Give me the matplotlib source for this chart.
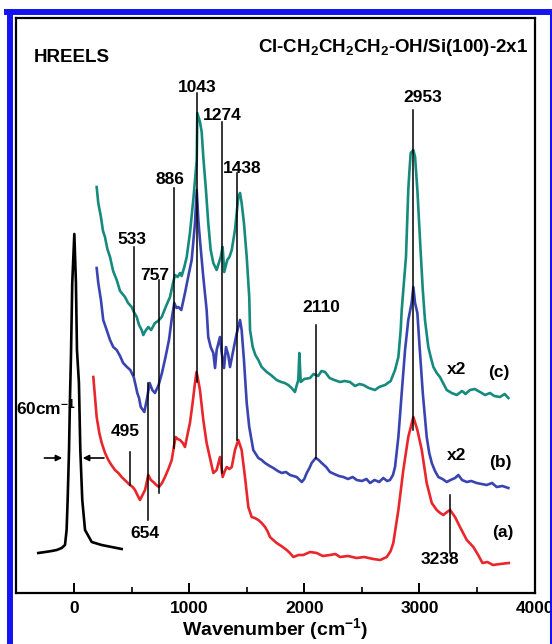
import matplotlib
matplotlib.use('Agg')
import matplotlib.pyplot as plt
from matplotlib.lines import Line2D
from matplotlib.ticker import MultipleLocator

plt.rcParams['font.family'] = ['Liberation Sans', 'DejaVu Sans']
plt.rcParams['font.weight'] = 'bold'
plt.rcParams['mathtext.default'] = 'regular'

# elastic peak (black)
elastic_x = [-310, -250, -194, -150, -107, -78, -64, -55, -43, -35, -26, -15, 3,
             17, 26, 43, 55, 72, 96, 154, 240, 327, 414]
elastic_y = [40, 41, 42, 43, 45, 48, 63, 93, 143, 193, 238, 310, 359,
             310, 243, 210, 143, 93, 63, 51, 48, 46, 44]

# spectrum (a), red
a_x = [168, 197, 220, 241, 270, 298, 325, 356, 385, 414, 450, 486, 510, 530, 555, 573,
       595, 617, 645, 668, 689, 715, 738, 765, 790, 820, 849, 870, 883, 900, 921, 945,
       964, 985, 1007, 1030, 1051, 1064, 1080, 1094, 1123, 1152, 1181, 1210, 1239, 1268,
       1291, 1310, 1326, 1350, 1370, 1398, 1427, 1456, 1485, 1514, 1543, 1570, 1601, 1630,
       1659, 1680, 1702, 1730, 1760, 1800, 1847, 1875, 1905, 1950, 1991, 2050, 2108, 2160,
       2223, 2270, 2310, 2380, 2455, 2520, 2599, 2660, 2716, 2750, 2773, 2817, 2860, 2903,
       2947, 2982, 3020, 3063, 3107, 3150, 3180, 3207, 3240, 3266, 3309, 3352, 3411, 3468,
       3510, 3547, 3590, 3639, 3700, 3776]
a_y = [216, 176, 160, 150, 140, 133, 128, 123, 120, 116, 112, 108, 106, 103, 97, 93,
       98, 103, 118, 113, 111, 108, 106, 110, 116, 124, 133, 148, 156, 154, 153, 150,
       146, 158, 170, 190, 210, 221, 212, 203, 173, 150, 135, 120, 123, 136,
       116, 122, 126, 124, 126, 143, 153, 143, 116, 86, 76, 75, 73, 70,
       66, 62, 56, 53, 50, 47, 43, 40, 36, 38, 38, 41, 40, 37,
       38, 39, 36, 37, 35, 36, 34, 33, 36, 42, 50, 83, 123, 156,
       176, 163, 143, 110, 90, 83, 80, 78, 81, 83, 76, 66, 53, 46,
       38, 30, 31, 28, 29, 30]

# spectrum (b), blue
b_x = [197, 211, 234, 254, 284, 313, 341, 371, 400, 427, 460, 489, 519, 550, 565, 580,
       611, 635, 657, 680, 703, 735, 764, 795, 825, 850, 871, 890, 906, 932, 964, 995,
       1022, 1051, 1066, 1080, 1094, 1123, 1152, 1166, 1187, 1210, 1225, 1239, 1268, 1283,
       1303, 1320, 1340, 1355, 1384, 1410, 1427, 1442, 1456, 1476, 1500, 1522, 1557, 1601,
       1630, 1659, 1700, 1731, 1770, 1804, 1840, 1876, 1905, 1934, 1978, 2000, 2021, 2045,
       2064, 2099, 2125, 2151, 2190, 2223, 2260, 2300, 2339, 2380, 2420, 2455, 2500, 2540,
       2571, 2610, 2650, 2686, 2720, 2744, 2770, 2788, 2817, 2846, 2875, 2903, 2932, 2947,
       2962, 2982, 2999, 3029, 3063, 3085, 3107, 3135, 3164, 3200, 3237, 3270, 3309, 3338,
       3370, 3411, 3450, 3497, 3540, 3584, 3630, 3671, 3720, 3772]
b_y = [325, 310, 293, 273, 263, 253, 246, 243, 237, 230, 226, 223, 216, 200, 195, 186,
       181, 195, 210, 203, 200, 208, 220, 236, 253, 275, 290, 285, 286, 283, 300, 318,
       333, 370, 403, 373, 353, 316, 283, 256, 246, 240, 225, 243, 256, 240,
       225, 246, 238, 226, 243, 258, 266, 273, 263, 233, 190, 166, 143, 135,
       133, 130, 127, 125, 122, 120, 121, 118, 117, 116, 111, 114, 120, 125,
       130, 135, 133, 130, 126, 121, 119, 117, 116, 114, 116, 113, 112, 114,
       110, 113, 111, 115, 112, 113, 118, 126, 156, 200, 243, 273, 290, 306,
       290, 280, 250, 200, 156, 140, 130, 122, 116, 114, 111, 113, 115, 118,
       113, 111, 112, 110, 109, 108, 110, 106, 107, 105]

# spectrum (c), teal
c_x = [197, 211, 234, 252, 269, 290, 313, 340, 371, 400, 443, 470, 501, 520, 545, 565,
       588, 602, 620, 645, 670, 703, 730, 762, 800, 834, 860, 877, 900, 921, 935, 958,
       979, 1007, 1036, 1066, 1071, 1094, 1109, 1123, 1146, 1166, 1187, 1210, 1239, 1258,
       1274, 1291, 1305, 1331, 1350, 1370, 1398, 1427, 1442, 1456, 1476, 1500, 1522, 1529,
       1552, 1575, 1601, 1630, 1674, 1710, 1760, 1800, 1830, 1861, 1890, 1919, 1935, 1948,
       1957, 1969, 2000, 2050, 2080, 2120, 2150, 2180, 2220, 2260, 2310, 2350, 2397, 2440,
       2480, 2513, 2560, 2614, 2650, 2701, 2750, 2788, 2817, 2837, 2846, 2883, 2903, 2912,
       2924, 2947, 2962, 2982, 3005, 3029, 3048, 3077, 3100, 3121, 3150, 3178, 3205, 3237,
       3280, 3324, 3370, 3400, 3439, 3480, 3526, 3570, 3612, 3650, 3699, 3740, 3772]
c_y = [406, 390, 376, 362, 356, 344, 336, 322, 313, 302, 296, 290, 286, 281, 276, 268,
       263, 258, 262, 266, 263, 270, 272, 276, 287, 296, 310, 318, 316, 320, 317, 326,
       336, 360, 393, 433, 480, 471, 461, 436, 403, 370, 343, 330, 323, 330,
       336, 346, 321, 333, 336, 343, 363, 396, 400, 390, 370, 336, 296, 263,
       246, 238, 233, 226, 221, 218, 213, 211, 210, 208, 205, 201, 208, 213,
       240, 211, 214, 215, 219, 217, 222, 221, 215, 213, 211, 212, 211, 207,
       209, 208, 205, 203, 206, 208, 212, 223, 236, 263, 283, 336, 403, 420,
       440, 443, 436, 403, 353, 303, 273, 246, 235, 226, 220, 216, 210, 203,
       200, 198, 202, 199, 203, 204, 201, 198, 200, 197, 196, 199, 195]

# peak assignments: label, line position, line bottom, line top
peak_labels = ['495', '533', '654', '757', '886', '1043', '1274', '1438', '2110', '2953', '3238']
peak_lines = [486, 521, 645, 741, 871, 1071, 1283, 1413, 2099, 2947, 3266]
line_spans = [(108, 141), (218, 346), (73, 210), (100, 313), (145, 405), (211, 500),
              (120, 471), (153, 420), (135, 268), (163, 483), (40, 98)]
label_spots = [(443, 161), (507, 354), (617, 60), (701, 318), (837, 414), (1070, 505),
               (1291, 477), (1463, 425), (2150, 286), (3025, 496), (3180, 33)]

W, H = 552, 644
fig = plt.figure(figsize=(W / 100, H / 100), dpi=100)
ax = fig.add_axes((16.4 / W, 51 / H, 518.2 / W, 575.5 / H))

ax.plot(elastic_x, elastic_y, color='black', lw=1.9)
ax.plot(a_x, a_y, color='#e8262b', lw=1.9)
ax.plot(b_x, b_y, color='#3a44b0', lw=1.9)
ax.plot(c_x, c_y, color='#168a7c', lw=1.9)

for lab, px, (y0, y1), (tx, ty) in zip(peak_labels, peak_lines, line_spans, label_spots):
    ax.plot([px, px], [y0, y1], color='black', lw=1.1, zorder=5)
    ax.text(tx, ty, lab, ha='center', va='center', fontsize=12.5, fontweight='bold')

# FWHM arrows on the elastic peak
ax.annotate('', xy=(-78, 135), xytext=(-281, 135),
            arrowprops=dict(arrowstyle='-|>', color='black', lw=1.2, mutation_scale=9))
ax.annotate('', xy=(52, 135), xytext=(284, 135),
            arrowprops=dict(arrowstyle='-|>', color='black', lw=1.2, mutation_scale=9))
ax.text(-500, 186, '60cm$^{-1}$', ha='left', va='center', fontsize=12.5, fontweight='bold')

ax.text(3318, 223, 'x2', ha='center', va='center', fontsize=12.5, fontweight='bold')
ax.text(3690, 221, '(c)', ha='center', va='center', fontsize=12.5, fontweight='bold')
ax.text(3318, 138, 'x2', ha='center', va='center', fontsize=12.5, fontweight='bold')
ax.text(3700, 131, '(b)', ha='center', va='center', fontsize=12.5, fontweight='bold')
ax.text(3720, 60, '(a)', ha='center', va='center', fontsize=12.5, fontweight='bold')

ax.text(-352, 531, 'HREELS', ha='left', va='baseline', fontsize=13.5, fontweight='bold')
ax.text(3943, 541, 'Cl-CH$_2$CH$_2$CH$_2$-OH/Si(100)-2x1', ha='right', va='baseline',
        fontsize=13.5, fontweight='bold')

ax.set_xlim(-500, 4000)
ax.set_ylim(0, 575.5)
ax.xaxis.set_major_locator(MultipleLocator(1000))
ax.xaxis.set_minor_locator(MultipleLocator(500))
ax.tick_params(axis='x', which='major', direction='in', length=7, width=1.4,
               labelsize=12.5, pad=6)
ax.tick_params(axis='x', which='minor', direction='in', length=4, width=1.2)
ax.set_yticks([])
for lbl in ax.get_xticklabels():
    lbl.set_fontweight('bold')
for sp in ax.spines.values():
    sp.set_linewidth(1.6)
ax.set_xlabel('Wavenumber (cm$^{-1}$)', fontsize=14, fontweight='bold', labelpad=0)

# blue frame of the figure
blue = '#1414f0'
fig.add_artist(Line2D([10 / W, 10 / W], [0, 1 - 12 / H], color=blue, lw=4.3))
fig.add_artist(Line2D([7 / W, 1], [1 - 12 / H, 1 - 12 / H], color=blue, lw=4.3))
fig.add_artist(Line2D([551 / W, 551 / W], [0, 1 - 12 / H], color=blue, lw=2.2))

fig.savefig('out.png', dpi=100)
